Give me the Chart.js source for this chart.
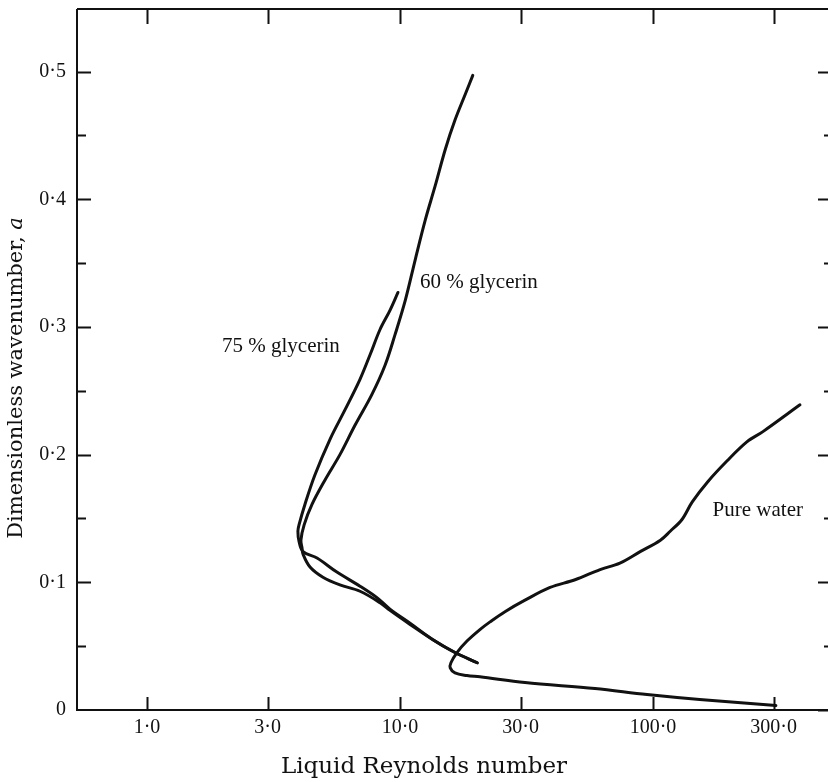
<!DOCTYPE html>
<html>
<head>
<meta charset="utf-8">
<script src="https://cdn.jsdelivr.net/npm/chart.js@4/dist/chart.umd.min.js"></script>
<style>
  html, body { margin: 0; padding: 0; background: #fff; overflow: hidden; }
  #wrap { width: 830px; height: 782px; }
</style>
</head>
<body>
<div id="wrap"><canvas id="c" width="830" height="782"></canvas></div>
<script>
// Neutral-stability curves: liquid Reynolds number against dimensionless wavenumber a

const glycerin75Re = [9.82, 9.13, 8.34, 7.61, 6.95, 6.06, 5.29, 4.61, 4.21, 3.99, 3.95, 3.99, 4.14,
                      4.70, 5.63, 6.95, 8.11, 9.13, 10.96, 13.5, 16.5, 20.2];
const glycerin75A  = [0.327, 0.313, 0.298, 0.278, 0.259, 0.235, 0.212, 0.184, 0.161, 0.145, 0.140, 0.132, 0.124,
                      0.119, 0.108, 0.097, 0.088, 0.079, 0.068, 0.055, 0.045, 0.037];

const glycerin60Re = [19.4, 18.1, 16.5, 15.1, 13.8, 12.6, 11.5, 10.5, 9.56, 8.73, 7.74, 6.64, 5.79, 5.05,
                      4.49, 4.18, 4.06, 4.10, 4.14, 4.41, 4.96, 5.79, 6.95, 8.34, 9.13, 10.96, 13.5, 16.5, 20.2];
const glycerin60A  = [0.497, 0.482, 0.462, 0.439, 0.411, 0.384, 0.353, 0.321, 0.294, 0.270, 0.247, 0.223, 0.200, 0.180,
                      0.161, 0.145, 0.133, 0.127, 0.122, 0.112, 0.104, 0.098, 0.093, 0.084, 0.078, 0.067, 0.055, 0.045, 0.037];

const pureWaterRe = [381, 272, 235, 196, 165, 143, 130, 117, 107, 89, 74, 61.8, 49.2, 39.2, 31.2, 26.0,
                     22.7, 20.7, 18.4, 16.8, 15.9, 15.8, 16.5, 18.4, 20.7, 31.2, 59.0, 94.7, 153, 306];
const pureWaterA  = [0.239, 0.218, 0.210, 0.195, 0.179, 0.163, 0.149, 0.140, 0.133, 0.124, 0.115, 0.110, 0.102, 0.096, 0.086, 0.077,
                     0.069, 0.063, 0.054, 0.045, 0.037, 0.033, 0.029, 0.027, 0.026, 0.0215, 0.0168, 0.0121, 0.0082, 0.0035];

const curveNames = ['75 % glycerin', '60 % glycerin', 'Pure water'];

const xTickValues = [1, 3, 10, 30, 100, 300];
const xTickLabels = ['1·0', '3·0', '10·0', '30·0', '100·0', '300·0'];
const yTickValues = [0, 0.05, 0.1, 0.15, 0.2, 0.25, 0.3, 0.35, 0.4, 0.45, 0.5];
const yTickLabels = ['0', '', '0·1', '', '0·2', '', '0·3', '', '0·4', '', '0·5'];

const xTitle = 'Liquid Reynolds number';
const yTitleParts = [{ text: 'Dimensionless wavenumber, ', italic: false }, { text: 'a', italic: true }];

// where each curve name is written, in data units
const nameAnchors = [
  { re: 1.98, a: 0.2845 },
  { re: 12.0, a: 0.3346 },
  { re: 172,  a: 0.156 }
];

const toPoints = (xs, ys) => xs.map((v, i) => ({ x: v, y: ys[i] }));

const INK = '#111';
const serif = "'Liberation Serif', 'Times New Roman', serif";
const wideSerif = "'DejaVu Serif', serif";

const lineStyle = {
  showLine: true, fill: false, borderColor: INK, borderWidth: 3,
  pointRadius: 0, tension: 0.35, borderCapStyle: 'round', borderJoinStyle: 'round'
};

// inward tick marks, frame and text drawn with the chart's own scales
const framePlugin = {
  id: 'frame',
  afterDraw(chart) {
    const { ctx, chartArea: area, scales: { x, y } } = chart;
    ctx.save();
    ctx.strokeStyle = INK;
    ctx.lineWidth = 2;
    ctx.lineCap = 'butt';

    ctx.beginPath();
    ctx.moveTo(area.left, area.top);
    ctx.lineTo(area.right, area.top);
    ctx.moveTo(area.left, area.top);
    ctx.lineTo(area.left, area.bottom);
    ctx.lineTo(area.right, area.bottom);
    ctx.stroke();

    ctx.beginPath();
    x.ticks.forEach(t => {
      const px = Math.round(x.getPixelForValue(t.value)) + 0.5;
      ctx.moveTo(px, area.bottom); ctx.lineTo(px, area.bottom - 13);
      ctx.moveTo(px, area.top);    ctx.lineTo(px, area.top + 15);
    });
    y.ticks.forEach(t => {
      const py = Math.round(y.getPixelForValue(t.value)) + 0.5;
      const major = Math.abs(t.value * 10 - Math.round(t.value * 10)) < 1e-6;
      if (t.value > 0) {
        ctx.moveTo(area.left, py);  ctx.lineTo(area.left + (major ? 14 : 9), py);
      }
      ctx.moveTo(area.right, py); ctx.lineTo(area.right - (major ? 12 : 6), py);
    });
    ctx.stroke();

    // curve names
    ctx.fillStyle = INK;
    ctx.font = '21px ' + serif;
    ctx.textAlign = 'left';
    ctx.textBaseline = 'middle';
    curveNames.forEach((name, i) => {
      const p = nameAnchors[i];
      ctx.fillText(name, x.getPixelForValue(p.re), y.getPixelForValue(p.a));
    });

    // x-axis title
    ctx.font = '23px ' + wideSerif;
    ctx.textAlign = 'center';
    ctx.textBaseline = 'alphabetic';
    ctx.fillText(xTitle, 424, 773);

    // y-axis title, rotated, with the italic symbol
    ctx.translate(22, 378);
    ctx.rotate(-Math.PI / 2);
    const fonts = yTitleParts.map(p => (p.italic ? 'italic ' : '') + '21px ' + wideSerif);
    const widths = yTitleParts.map((p, i) => { ctx.font = fonts[i]; return ctx.measureText(p.text).width; });
    let cx = -widths.reduce((s, w) => s + w, 0) / 2;
    ctx.textAlign = 'left';
    yTitleParts.forEach((p, i) => {
      ctx.font = fonts[i];
      ctx.fillText(p.text, cx, 0);
      cx += widths[i];
    });
    ctx.restore();
  }
};

Chart.defaults.font.family = serif;
Chart.defaults.font.size = 20;
Chart.defaults.color = INK;

const noEdgePadding = s => {
  s.paddingTop = 0; s.paddingBottom = 0; s.paddingLeft = 0; s.paddingRight = 0;
};

new Chart(document.getElementById('c'), {
  type: 'scatter',
  data: {
    datasets: [
      { label: curveNames[0], data: toPoints(glycerin75Re, glycerin75A), ...lineStyle },
      { label: curveNames[1], data: toPoints(glycerin60Re, glycerin60A), ...lineStyle },
      { label: curveNames[2], data: toPoints(pureWaterRe, pureWaterA), ...lineStyle }
    ]
  },
  options: {
    responsive: false,
    devicePixelRatio: 1,
    animation: false,
    layout: { padding: { top: 9, right: 0, left: 0, bottom: 0 } },
    plugins: { legend: { display: false }, tooltip: { enabled: false } },
    scales: {
      x: {
        type: 'logarithmic',
        min: 0.529,
        max: 500.8,
        grid: { display: false, drawTicks: false },
        border: { display: false },
        afterBuildTicks: s => { s.ticks = xTickValues.map(v => ({ value: v })); },
        afterFit: s => { s.height = 72; noEdgePadding(s); },
        ticks: {
          autoSkip: false, maxRotation: 0, padding: 6,
          callback: (v, i) => xTickLabels[i]
        }
      },
      y: {
        type: 'linear',
        min: 0,
        max: 0.549,
        grid: { display: false, drawTicks: false },
        border: { display: false },
        afterBuildTicks: s => { s.ticks = yTickValues.map(v => ({ value: v })); },
        afterFit: s => { s.width = 77; noEdgePadding(s); },
        ticks: {
          autoSkip: false, padding: 11,
          callback: (v, i) => yTickLabels[i]
        }
      }
    }
  },
  plugins: [framePlugin]
});
</script>
</body>
</html>
